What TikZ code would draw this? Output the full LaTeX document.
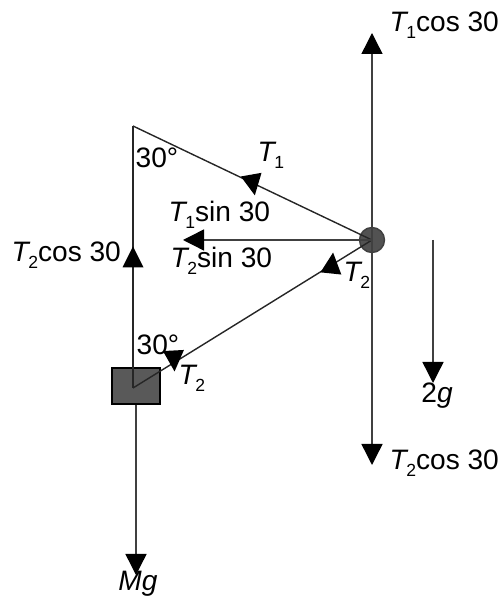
\documentclass[tikz,border=0pt]{standalone}
\usepackage{fontspec}
\setmainfont{Liberation Sans}
\usetikzlibrary{arrows.meta}
\newcommand{\ix}[1]{\kern-0.08em\raisebox{-0.45ex}{\fontsize{10}{11}\selectfont #1}}

\begin{document}
\begin{tikzpicture}[line width=0.8pt,
  force/.style={draw=black!75, -{Triangle[length=0.42cm,width=0.42cm,black]}},
  string/.style={draw=black!85},
  lbl/.style={inner sep=0pt, anchor=base west, font=\fontsize{16}{19}\selectfont},
  head/.pic={\fill[black] (0.21,0) -- (-0.21,0.21) -- (-0.21,-0.21) -- cycle;}]
  \useasboundingbox (0,0) rectangle (10.04,12.12);
  % ball and block
  \node[circle, fill=black!68, draw=black!75, minimum size=0.5cm, inner sep=0pt] (ball) at (7.44,7.32) {};
  \node[rectangle, fill=black!65, draw=black, minimum width=0.96cm, minimum height=0.72cm, inner sep=0pt] (block) at (2.72,4.40) {};
  \coordinate (top) at (2.66,9.60);
  \coordinate (knot) at (2.66,4.36);
  \coordinate (upT) at (7.44,11.46);
  \coordinate (downT) at (7.44,2.82);
  \coordinate (sinT) at (3.66,7.32);
  \coordinate (mgT) at (2.72,0.62);
  \coordinate (gtop) at (8.66,7.32);
  \coordinate (gtip) at (8.66,4.46);
  % strings
  \draw[string] (top) -- (ball.center);
  \draw[string] (ball.center) -- (knot);
  \draw[string] (top) -- (knot);
  % forces
  \draw[force] (ball.center) -- (upT);
  \draw[force] (ball.center) -- (downT);
  \draw[force] (ball.center) -- (sinT);
  \draw[force] (block.south) -- (mgT);
  \draw[force] (gtop) -- (gtip);
  % heads on the strings
  \pic[rotate=-80] at (5.06,8.42) {head};
  \pic[rotate=84] at (6.64,6.86) {head};
  \pic[rotate=-87] at (3.48,4.90) {head};
  \pic[rotate=90] at (2.66,6.98) {head};
  % labels
  \node[lbl] (t1cos) at (7.78,11.48) {\textit{T}\ix{1}cos 30};
  \node[lbl] (t2cosR) at (7.78,2.72) {\textit{T}\ix{2}cos 30};
  \node[lbl] (t2cosL) at (0.22,6.88) {\textit{T}\ix{2}cos 30};
  \node[lbl] (t1sin) at (3.36,7.68) {\textit{T}\ix{1}sin 30};
  \node[lbl] (t2sin) at (3.40,6.76) {\textit{T}\ix{2}sin 30};
  \node[lbl] (t1) at (5.14,8.88) {\textit{T}\ix{1}};
  \node[lbl] (t2a) at (6.86,6.48) {\textit{T}\ix{2}};
  \node[lbl] (t2b) at (3.56,4.42) {\textit{T}\ix{2}};
  \node[lbl] (angA) at (2.70,8.76) {30°};
  \node[lbl] (angB) at (2.72,5.02) {30°};
  \node[lbl, anchor=base] (mg) at (2.76,0.30) {\textit{Mg}};
  \node[lbl, anchor=base] (twog) at (8.74,4.06) {2\textit{g}};
\end{tikzpicture}
\end{document}
